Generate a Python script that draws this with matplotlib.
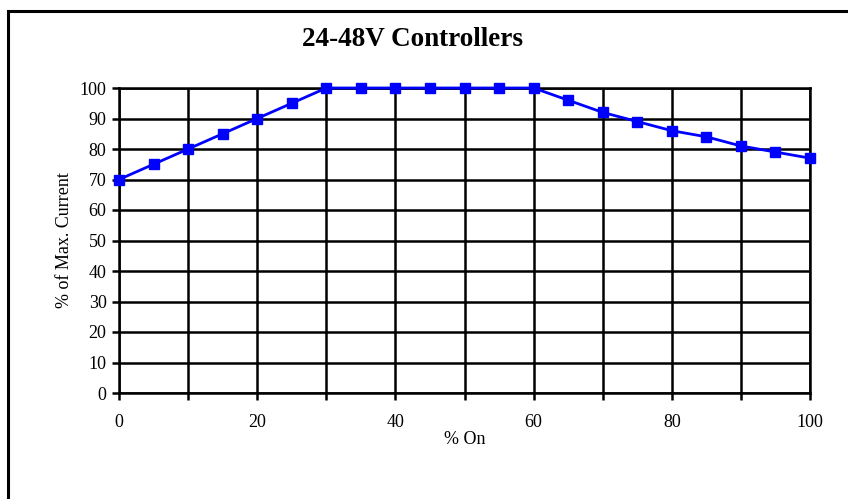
import numpy as np
import matplotlib
matplotlib.use('Agg')
import matplotlib.pyplot as plt
from matplotlib.patches import Rectangle

pct_on = [0, 5, 10, 15, 20, 25, 30, 35, 40, 45, 50, 55, 60, 65, 70, 75, 80, 85, 90, 95, 100]
pct_current = [70, 75, 80, 85, 90, 95, 100, 100, 100, 100, 100, 100, 100, 96, 92, 89, 86, 84, 81, 79, 77]

plt.rcParams['font.family'] = 'Liberation Serif'

W, H = 848, 499
fig = plt.figure(figsize=(W / 100, H / 100), dpi=100)
ax = fig.add_axes([119 / W, 1 - 393 / H, (810 - 119) / W, (393 - 88) / H])

# outer chart border (only top/left fall inside the picture)
fig.patches.append(Rectangle((8 / W, -0.1), 1.2, 1 - 11 / H + 0.1, transform=fig.transFigure,
                             fill=False, edgecolor='black', linewidth=2.2))

ax.plot(pct_on, pct_current, color='blue', linewidth=2, marker='s', markersize=6.5,
        markeredgecolor='blue', clip_on=False, zorder=3)

ax.set_xlim(0, 100)
ax.set_ylim(0, 100)
ax.set_xticks(np.arange(0, 101, 20))
ax.set_xticks(np.arange(0, 101, 10), minor=True)
ax.set_yticks(np.arange(0, 101, 10))
ax.grid(True, which='both', color='black', linewidth=1.8)
for s in ax.spines.values():
    s.set_linewidth(1.8)
ax.tick_params(axis='both', which='both', direction='out', width=1.8, length=5, labelsize=13)
ax.tick_params(axis='x', pad=10)
ax.tick_params(axis='y', pad=4)
ax.set_xlabel('% On', fontsize=13, labelpad=0)
ax.set_ylabel('% of Max. Current', fontsize=13, labelpad=5)
fig.text(413 / W, 1 - 39 / H, '24-48V Controllers', ha='center', va='center',
         fontsize=19.5, fontweight='bold')

fig.savefig('out.png', dpi=100)
